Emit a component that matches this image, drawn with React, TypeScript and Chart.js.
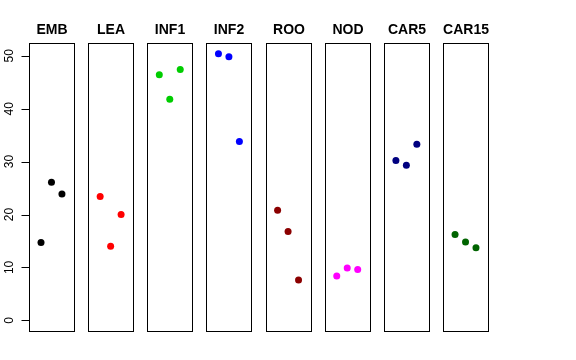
import React, { useEffect, useRef } from "react";
import { Chart, registerables } from "chart.js";

Chart.register(...registerables);

const categories = ["EMB", "LEA", "INF1", "INF2", "ROO", "NOD", "CAR5", "CAR15"];
const rep1 = [14.7, 23.4, 46.4, 50.4, 20.8, 8.4, 30.2, 16.2];
const rep2 = [26.1, 14.0, 41.8, 49.8, 16.8, 9.9, 29.3, 14.8];
const rep3 = [23.9, 20.0, 47.4, 33.8, 7.6, 9.6, 33.3, 13.7];
const colors = ["#000000", "#FF0000", "#00CD00", "#0000FF", "#8B0000", "#FF00FF", "#000080", "#006400"];
const yTicks = [0, 10, 20, 30, 40, 50];

const JIT = [-0.177, 0, 0.177];
const HALF = 0.38;

const panelPlugin = {
  id: "panels",
  afterDatasetsDraw(chart: any) {
    const { ctx, scales } = chart;
    const xs = scales.x;
    const ys = scales.y;
    const top = ys.getPixelForValue(ys.max);
    const bottom = ys.getPixelForValue(ys.min);
    ctx.save();
    ctx.strokeStyle = "#000";
    ctx.lineWidth = 1;
    categories.forEach((c, k) => {
      const l = Math.round(xs.getPixelForValue(k - HALF)) + 0.5;
      const r = Math.round(xs.getPixelForValue(k + HALF)) + 0.5;
      ctx.strokeRect(l, Math.round(top) + 0.5, r - l, Math.round(bottom) - Math.round(top));
      ctx.fillStyle = "#000";
      ctx.font = "bold 14px 'Liberation Sans', Arial, sans-serif";
      ctx.textAlign = "center";
      ctx.textBaseline = "alphabetic";
      ctx.fillText(c, (l + r) / 2, 34);
    });
    // y axis
    const axX = Math.round(xs.getPixelForValue(-HALF)) + 0.5;
    ctx.beginPath();
    ctx.moveTo(axX, ys.getPixelForValue(yTicks[0]));
    ctx.lineTo(axX, ys.getPixelForValue(yTicks[yTicks.length - 1]));
    yTicks.forEach((t) => {
      const y = Math.round(ys.getPixelForValue(t)) + 0.5;
      ctx.moveTo(axX - 8, y);
      ctx.lineTo(axX, y);
    });
    ctx.stroke();
    ctx.font = "12px 'Liberation Sans', Arial, sans-serif";
    ctx.textAlign = "center";
    ctx.textBaseline = "alphabetic";
    yTicks.forEach((t) => {
      const y = ys.getPixelForValue(t);
      ctx.save();
      ctx.translate(13, y);
      ctx.rotate(-Math.PI / 2);
      ctx.fillText(String(t), 0, 0);
      ctx.restore();
    });
    ctx.restore();
  },
};

export default function App() {
  const ref = useRef<HTMLCanvasElement>(null);
  useEffect(() => {
    const reps = [rep1, rep2, rep3];
    const datasets = categories.map((c, k) => ({
      label: c,
      data: reps.map((r, i) => ({ x: k + JIT[i], y: r[k] })),
      backgroundColor: colors[k],
      borderColor: colors[k],
      pointRadius: 3.5,
      pointBorderWidth: 0,
      showLine: false,
    }));
    const chart = new Chart(ref.current!, {
      type: "scatter",
      data: { datasets },
      options: {
        animation: false,
        responsive: false,
        layout: { padding: { left: 29, right: 88, top: 43, bottom: 29 } },
        plugins: { legend: { display: false }, tooltip: { enabled: false } },
        scales: {
          x: { type: "linear", min: -HALF, max: 7 + HALF, display: false },
          y: { type: "linear", min: -2.02, max: 52.42, display: false },
        },
      },
      plugins: [panelPlugin],
    });
    return () => chart.destroy();
  }, []);
  return (
    <div style={{ position: "fixed", left: 0, top: 0, width: 576, height: 360, background: "#fff" }}>
      <canvas ref={ref} width={576} height={360} />
    </div>
  );
}
